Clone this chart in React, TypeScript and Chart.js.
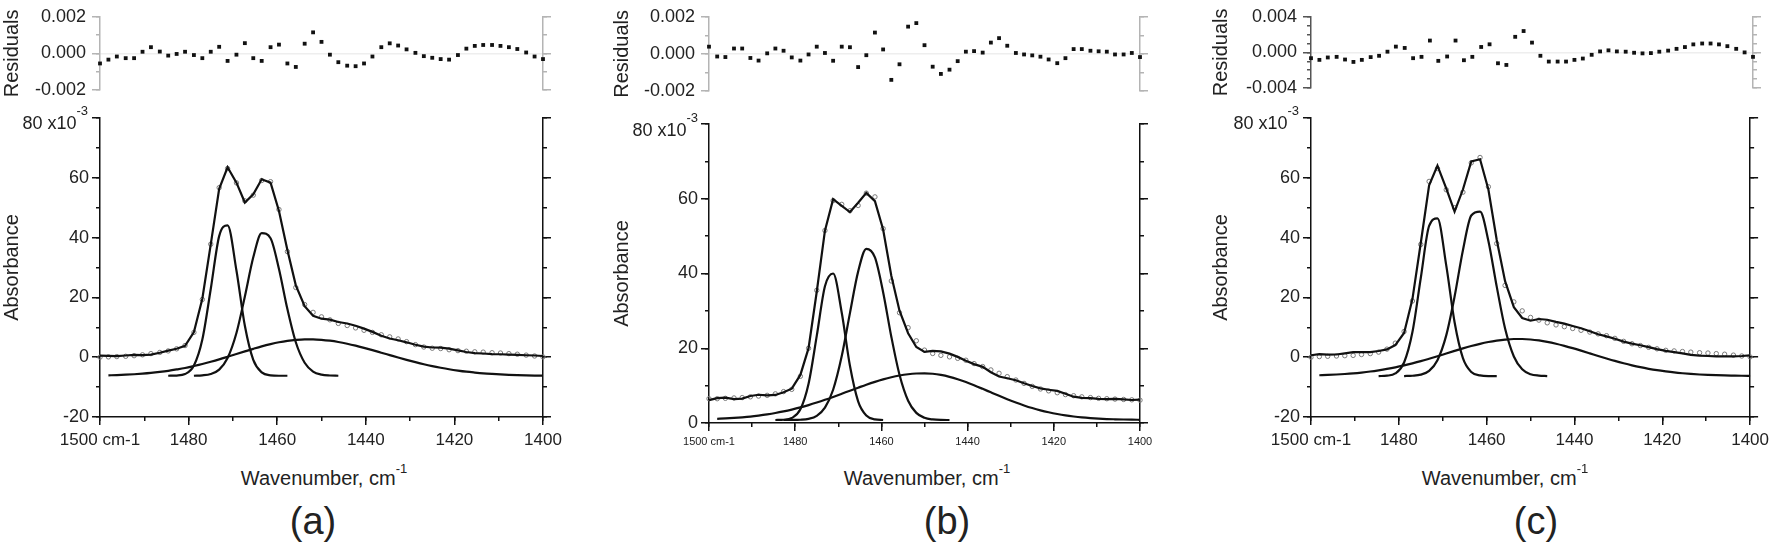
import React, { useEffect, useRef } from "react";
import { Chart, registerables } from "chart.js";

Chart.register(...registerables);

// ---------------- data ----------------
const WAVENUMBERS = [
  1500.0, 1498.1, 1496.2, 1494.2, 1492.3, 1490.4, 1488.5, 1486.5, 1484.6, 1482.7,
  1480.8, 1478.8, 1476.9, 1475.0, 1473.1, 1471.2, 1469.2, 1467.3, 1465.4, 1463.5,
  1461.5, 1459.6, 1457.7, 1455.8, 1453.8, 1451.9, 1450.0, 1448.1, 1446.2, 1444.2,
  1442.3, 1440.4, 1438.5, 1436.5, 1434.6, 1432.7, 1430.8, 1428.8, 1426.9, 1425.0,
  1423.1, 1421.2, 1419.2, 1417.3, 1415.4, 1413.5, 1411.5, 1409.6, 1407.7, 1405.8,
  1403.8, 1401.9, 1400.0,
];

const X_MIN = 1400;
const X_MAX = 1500;
const X_MAJOR = 20;
const X_MINOR = 10;
const Y_MAJOR = 20;
const Y_MINOR = 10;
const TOP_TICK = 80;
const RES_MINOR = 0.001;
const PANEL_LABELS = ["(a)", "(b)", "(c)"];

// panel (a)
const A_ABSORBANCE = [
  0.0, 0.1, 0.2, 0.3, 0.5, 0.8, 1.2, 1.6, 2.1, 2.8,
  3.9, 8.3, 19.3, 37.8, 56.7, 63.1, 58.3, 52.3, 54.2, 59.1,
  58.7, 49.4, 35.3, 23.3, 17.6, 15.0, 13.5, 12.5, 11.3, 10.6,
  9.8, 9.0, 8.3, 7.5, 6.8, 6.1, 5.2, 4.2, 3.4, 3.0,
  2.9, 2.5, 2.2, 2.0, 1.8, 1.7, 1.5, 1.4, 1.2, 1.0,
  0.7, 0.4, 0.1,
];
const A_RESIDUALS = [
  -0.00055, -0.00034, -0.00017, -0.00026, -0.00026, 0.00009, 0.00034, 0.0001, -0.00012, -0.00003,
  0.00009, -0.00009, -0.00026, 0.00009, 0.00036, -0.00041, -0.00007, 0.00056, -0.00026, -0.00041,
  0.00034, 0.00048, -0.00055, -0.00074, 0.00053, 0.00115, 0.00063, -0.00007, -0.00048, -0.00067,
  -0.0007, -0.00055, -0.00017, 0.00034, 0.00055, 0.00043, 0.00022, 0.00003, -0.00015, -0.00024,
  -0.00031, -0.00034, -0.00009, 0.00026, 0.00041, 0.00046, 0.00046, 0.00041, 0.00034, 0.00024,
  0.00005, -0.00017, -0.00031,
];
const A_PEAK1_START = 8;
const A_PEAK1 = [-6.2, -6.13, -5.64, -2.8, 5.9, 22.8, 40.5, 44.1, 29.0, 10.5, -0.9, -5.07, -6.06, -6.2, -6.2];
const A_PEAK2_START = 11;
const A_PEAK2 = [-6.2, -6.07, -5.62, -4.15, -0.27, 8.1, 20.3, 33.4, 41.5, 39.8, 29.5, 16.1, 5.0, -1.85, -4.8, -5.83, -6.12, -6.2];
const A_BROAD_START = 1;
const A_BROAD = [
  -6.07, -5.98, -5.86, -5.7, -5.5, -5.25, -4.92, -4.55, -4.1, -3.6,
  -2.94, -2.27, -1.52, -0.72, 0.14, 1.07, 1.94, 2.8, 3.62, 4.38,
  5.0, 5.48, 5.81, 5.99, 5.98, 5.82, 5.52, 5.09, 4.51, 3.86,
  3.13, 2.36, 1.51, 0.7, -0.11, -0.89, -1.66, -2.35, -2.97, -3.52,
  -4.02, -4.47, -4.84, -5.13, -5.39, -5.6, -5.77, -5.9, -6.0, -6.08,
  -6.14, -6.19,
];
const A_Y_RANGE = [-20, 80];
const A_RES_LIMIT = 0.002;

// panel (b)
const B_ABSORBANCE = [
  6.5, 6.5, 6.6, 6.7, 6.8, 7.0, 7.2, 7.4, 7.8, 8.4,
  9.0, 12.5, 20.0, 35.5, 51.5, 59.5, 58.5, 56.8, 58.2, 61.5,
  60.5, 52.0, 38.0, 29.5, 25.5, 22.0, 19.5, 18.6, 18.1, 17.7,
  17.3, 16.8, 15.9, 15.1, 14.2, 13.3, 12.4, 11.5, 10.6, 9.8,
  9.1, 8.6, 8.1, 7.6, 7.3, 7.0, 6.8, 6.6, 6.5, 6.4,
  6.3, 6.2, 6.1,
];
const B_RESIDUALS = [
  0.00039, -0.00014, -0.00017, 0.00029, 0.00029, -0.00022, -0.00036, 0.00003, 0.00029, 0.00017,
  -0.00019, -0.00036, -0.00003, 0.00039, 0.00005, -0.00037, 0.00039, 0.00036, -0.00071, -0.00007,
  0.00115, 0.00024, -0.0014, -0.00056, 0.00147, 0.00166, 0.00047, -0.00069, -0.00108, -0.00085,
  -0.00039, 0.00012, 0.00015, 0.00007, 0.00061, 0.00085, 0.00044, 0.00005, -0.00003, -0.00008,
  -0.00015, -0.0003, -0.0005, -0.00023, 0.00026, 0.00026, 0.00017, 0.00014, 0.00012, -0.00003,
  -0.00003, 0.00005, -0.00017,
];
const B_PEAK1_START = 8;
const B_PEAK1 = [0.8, 0.87, 1.33, 3.66, 10.5, 23.3, 36.6, 40.0, 29.5, 15.3, 5.8, 2.0, 0.97, 0.8];
const B_PEAK2_START = 9;
const B_PEAK2 = [0.8, 0.81, 0.87, 1.11, 1.92, 4.1, 8.9, 17.9, 29.4, 40.5, 46.6, 44.3, 35.0, 23.1, 12.9, 5.96, 2.71, 1.39, 0.95, 0.82, 0.8];
const B_BROAD_START = 1;
const B_BROAD = [
  1.11, 1.22, 1.36, 1.53, 1.73, 1.99, 2.31, 2.67, 3.1, 3.59,
  4.17, 4.79, 5.47, 6.2, 6.98, 7.83, 8.65, 9.45, 10.24, 11.01,
  11.67, 12.24, 12.7, 13.05, 13.25, 13.3, 13.17, 12.86, 12.35, 11.71,
  10.95, 10.1, 9.14, 8.2, 7.27, 6.37, 5.48, 4.7, 4.0, 3.39,
  2.87, 2.4, 2.03, 1.74, 1.5, 1.31, 1.17, 1.06, 0.99, 0.93,
  0.89, 0.86,
];
const B_Y_RANGE = [0, 80];
const B_RES_LIMIT = 0.002;

// panel (c)
const C_ABSORBANCE = [
  0.0, 0.2, 0.3, 0.4, 0.5, 0.6, 0.9, 1.2, 1.7, 2.7,
  4.7, 8.6, 18.8, 37.7, 58.8, 63.1, 56.0, 50.0, 55.2, 65.0,
  66.8, 57.0, 38.0, 24.0, 18.5, 15.5, 13.3, 12.4, 11.5, 10.8,
  10.2, 9.6, 9.0, 8.4, 7.8, 7.2, 6.3, 5.3, 4.5, 3.9,
  3.3, 2.8, 2.3, 2.1, 1.9, 1.7, 1.5, 1.4, 1.2, 1.0,
  0.7, 0.4, 0.1,
];
const C_RESIDUALS = [
  -0.00065, -0.00084, -0.00057, -0.0005, -0.0008, -0.00107, -0.00084, -0.00053, -0.00038, 0.00008,
  0.00065, 0.0005, -0.00065, -0.0005, 0.00133, -0.00095, -0.00046, 0.00133, -0.00088, -0.0005,
  0.00061, 0.00091, -0.00122, -0.00141, 0.00175, 0.0024, 0.0011, -0.00038, -0.00103, -0.00103,
  -0.00103, -0.00084, -0.00069, -0.00027, 0.00011, 0.00023, 0.00011, 0.00008, -0.00004, -0.00011,
  -0.00008, 0.00008, 0.0002, 0.0004, 0.0006, 0.0009, 0.001, 0.001, 0.0009, 0.0007,
  0.0004, 0.0, -0.0005,
];
const C_PEAK1_START = 8;
const C_PEAK1 = [-6.3, -6.18, -5.43, -1.76, 8.4, 26.5, 43.9, 46.4, 30.7, 11.7, -0.3, -4.93, -6.1, -6.3, -6.3];
const C_PEAK2_START = 11;
const C_PEAK2 = [-6.3, -6.2, -5.84, -4.56, -0.99, 7.3, 20.3, 35.8, 47.4, 48.7, 38.9, 23.6, 9.6, 0.24, -4.06, -5.68, -6.16, -6.3];
const C_BROAD_START = 1;
const C_BROAD = [
  -6.03, -5.92, -5.78, -5.61, -5.4, -5.13, -4.79, -4.39, -3.93, -3.4,
  -2.75, -2.07, -1.33, -0.52, 0.32, 1.24, 2.1, 2.94, 3.73, 4.48,
  5.08, 5.55, 5.89, 6.08, 6.08, 5.92, 5.6, 5.14, 4.51, 3.8,
  3.03, 2.2, 1.29, 0.41, -0.43, -1.24, -2.03, -2.72, -3.34, -3.88,
  -4.35, -4.76, -5.1, -5.37, -5.59, -5.78, -5.91, -6.01, -6.09, -6.15,
  -6.2, -6.23,
];
const C_Y_RANGE = [-20, 80];
const C_RES_LIMIT = 0.004;

// ---------------- style / layout ----------------
const FONT = "'Liberation Sans', Arial, Helvetica, sans-serif";
const TEXT = "#222";
const INK = "#111";
const AXIS = "#111";
const CIRCLE = "#7a7a7a";
const ZERO_LINE = "#eeeeee";

type Panel = {
  absorbance: number[];
  residuals: number[];
  peak1: number[];
  peak1Start: number;
  peak2: number[];
  peak2Start: number;
  broad: number[];
  broadStart: number;
  yRange: number[];
  resLimit: number;
};

const PANELS: Panel[] = [
  { absorbance: A_ABSORBANCE, residuals: A_RESIDUALS, peak1: A_PEAK1, peak1Start: A_PEAK1_START, peak2: A_PEAK2, peak2Start: A_PEAK2_START, broad: A_BROAD, broadStart: A_BROAD_START, yRange: A_Y_RANGE, resLimit: A_RES_LIMIT },
  { absorbance: B_ABSORBANCE, residuals: B_RESIDUALS, peak1: B_PEAK1, peak1Start: B_PEAK1_START, peak2: B_PEAK2, peak2Start: B_PEAK2_START, broad: B_BROAD, broadStart: B_BROAD_START, yRange: B_Y_RANGE, resLimit: B_RES_LIMIT },
  { absorbance: C_ABSORBANCE, residuals: C_RESIDUALS, peak1: C_PEAK1, peak1Start: C_PEAK1_START, peak2: C_PEAK2, peak2Start: C_PEAK2_START, broad: C_BROAD, broadStart: C_BROAD_START, yRange: C_Y_RANGE, resLimit: C_RES_LIMIT },
];

type Box = { left: number; top: number; width: number; height: number; axL: number; axR: number; padT: number; padB: number; axB: number; titlePad: number };

const MAIN_BOXES: Box[] = [
  { left: 0, top: 100, width: 575, height: 360, axL: 100, axR: 32, padT: 18, padB: 0, axB: 43, titlePad: 0 },
  { left: 600, top: 100, width: 570, height: 360, axL: 109, axR: 30, padT: 24, padB: 0, axB: 37, titlePad: 10 },
  { left: 1200, top: 100, width: 574, height: 360, axL: 111, axR: 21, padT: 18, padB: 0, axB: 43, titlePad: 9 },
];
const RES_BOXES: Box[] = [
  { left: 0, top: 0, width: 575, height: 110, axL: 100, axR: 32, padT: 12, padB: 20, axB: 0, titlePad: 0 },
  { left: 600, top: 0, width: 570, height: 110, axL: 109, axR: 30, padT: 14, padB: 19, axB: 0, titlePad: 10 },
  { left: 1200, top: 0, width: 574, height: 110, axL: 111, axR: 21, padT: 13, padB: 22, axB: 0, titlePad: 9 },
];
const X_TICK_FONT = [17, 11, 17];
const X_TICK_PAD = [5, 4, 5];
const RES_LEFT_COLOR = ["#b4b4b4", "#b4b4b4", "#555"];
const RES_RIGHT_COLOR = ["#b4b4b4", "#b4b4b4", "#b4b4b4"];

// overlay text positions
const X_TITLE_CENTER = [324, 927, 1505];
const PANEL_LABEL_CENTER = [313, 947, 1536];
const TOP_LABEL = [
  { right: 88, top: 114 },
  { right: 698, top: 121 },
  { right: 1299, top: 114 },
];

// ---------------- chart builders ----------------
function pts(vals: number[], start: number) {
  return vals.map((v, k) => ({ x: WAVENUMBERS[start + k], y: v }));
}

function axis(o: any) {
  const isX = o.axis === "x";
  return {
    type: "linear",
    axis: o.axis,
    position: o.position,
    min: o.min,
    max: o.max,
    reverse: !!o.reverse,
    weight: o.weight,
    afterFit: (s: any) => {
      if (isX) s.height = o.size;
      else s.width = o.size;
    },
    ticks: o.labels
      ? { stepSize: o.step, autoSkip: false, maxRotation: 0, minRotation: 0, ...o.labels }
      : { stepSize: o.step, autoSkip: false, display: false },
    grid: {
      display: true,
      drawOnChartArea: !!o.gridColor,
      drawTicks: true,
      tickLength: o.tickLength,
      tickWidth: 1.5,
      tickColor: o.color,
      lineWidth: 1.5,
      color: o.gridColor || "rgba(0,0,0,0)",
    },
    border: { display: !!o.border, color: o.color, width: 1.5 },
    title: o.title || { display: false },
  };
}

function buildMain(p: Panel, g: Box, idx: number) {
  const fit = p.absorbance.map((v, i) => ({ x: WAVENUMBERS[i], y: v - p.residuals[i] * 1000 }));
  const curve = (data: any[]) => ({
    data,
    xAxisID: "x",
    yAxisID: "y",
    borderColor: INK,
    borderWidth: 2.2,
    pointRadius: 0,
    fill: false,
    clip: false,
    cubicInterpolationMode: "monotone",
  });
  const [ymin, ymax] = p.yRange;
  return {
    type: "line",
    data: {
      datasets: [
        curve(pts(p.broad, p.broadStart)),
        curve(pts(p.peak1, p.peak1Start)),
        curve(pts(p.peak2, p.peak2Start)),
        { ...curve(fit), cubicInterpolationMode: "default", tension: 0 },
        {
          data: pts(p.absorbance, 0),
          xAxisID: "x",
          yAxisID: "y",
          showLine: false,
          pointRadius: 2.2,
          pointBorderWidth: 1,
          pointBorderColor: CIRCLE,
          pointBackgroundColor: "rgba(0,0,0,0)",
          borderColor: CIRCLE,
          backgroundColor: "rgba(0,0,0,0)",
          clip: false,
        },
      ],
    },
    options: {
      responsive: false,
      maintainAspectRatio: false,
      animation: false,
      events: [],
      layout: { padding: { top: g.padT, left: 0, right: 0, bottom: 0 } },
      plugins: { legend: { display: false }, tooltip: { enabled: false } },
      scales: {
        x: axis({
          axis: "x", position: "bottom", min: X_MIN, max: X_MAX, reverse: true, weight: 1, size: g.axB,
          step: X_MAJOR, tickLength: 8, color: AXIS, border: true,
          labels: {
            padding: X_TICK_PAD[idx],
            color: TEXT,
            font: { family: FONT, size: X_TICK_FONT[idx] },
            callback: (v: number) => (v === X_MAX ? `${X_MAX} cm-1` : String(v)),
          },
        }),
        xMinor: axis({
          axis: "x", position: "bottom", min: X_MIN, max: X_MAX, reverse: true, weight: 0, size: 0,
          step: X_MINOR, tickLength: 4, color: AXIS, border: false,
        }),
        y: axis({
          axis: "y", position: "left", min: ymin, max: ymax, weight: 1, size: g.axL,
          step: Y_MAJOR, tickLength: 8, color: AXIS, border: true,
          labels: {
            padding: 3,
            color: TEXT,
            font: { family: FONT, size: 18 },
            callback: (v: number) => (v === TOP_TICK ? "" : String(v)),
          },
          title: {
            display: true,
            text: "Absorbance",
            color: TEXT,
            font: { family: FONT, size: 20 },
            padding: { top: g.titlePad, bottom: 0 },
          },
        }),
        yMinor: axis({
          axis: "y", position: "left", min: ymin, max: ymax, weight: 0, size: 0,
          step: Y_MINOR, tickLength: 4, color: AXIS, border: false,
        }),
        yRight: axis({
          axis: "y", position: "right", min: ymin, max: ymax, weight: 1, size: g.axR,
          step: Y_MAJOR, tickLength: 8, color: AXIS, border: true,
        }),
        yRightMinor: axis({
          axis: "y", position: "right", min: ymin, max: ymax, weight: 0, size: 0,
          step: Y_MINOR, tickLength: 4, color: AXIS, border: false,
        }),
      },
    },
  };
}

function buildResidual(p: Panel, g: Box, idx: number) {
  const lim = p.resLimit;
  const lc = RES_LEFT_COLOR[idx];
  const rc = RES_RIGHT_COLOR[idx];
  return {
    type: "line",
    data: {
      datasets: [
        {
          data: pts(p.residuals, 0),
          xAxisID: "x",
          yAxisID: "y",
          showLine: false,
          pointStyle: "rect",
          pointRadius: 2.7,
          pointBorderWidth: 0,
          pointBackgroundColor: "#111",
          backgroundColor: "#111",
          borderColor: "#111",
          clip: false,
        },
      ],
    },
    options: {
      responsive: false,
      maintainAspectRatio: false,
      animation: false,
      events: [],
      layout: { padding: { top: g.padT, left: 0, right: 0, bottom: g.padB } },
      plugins: { legend: { display: false }, tooltip: { enabled: false } },
      scales: {
        x: { type: "linear", axis: "x", min: X_MIN, max: X_MAX, reverse: true, display: false },
        y: axis({
          axis: "y", position: "left", min: -lim, max: lim, weight: 1, size: g.axL,
          step: lim, tickLength: 8, color: lc, border: true,
          gridColor: (c: any) => (c.tick && Math.abs(c.tick.value) < 1e-12 ? ZERO_LINE : "rgba(0,0,0,0)"),
          labels: {
            padding: 6,
            color: TEXT,
            font: { family: FONT, size: 18 },
            callback: (v: number) => Number(v).toFixed(3).replace("-0.000", "0.000"),
          },
          title: {
            display: true,
            text: "Residuals",
            color: TEXT,
            font: { family: FONT, size: 20 },
            padding: { top: g.titlePad, bottom: 0 },
          },
        }),
        yMinor: axis({
          axis: "y", position: "left", min: -lim, max: lim, weight: 0, size: 0,
          step: RES_MINOR, tickLength: 4, color: lc, border: false,
        }),
        yRight: axis({
          axis: "y", position: "right", min: -lim, max: lim, weight: 1, size: g.axR,
          step: lim, tickLength: 8, color: rc, border: true,
        }),
        yRightMinor: axis({
          axis: "y", position: "right", min: -lim, max: lim, weight: 0, size: 0,
          step: RES_MINOR, tickLength: 4, color: rc, border: false,
        }),
      },
    },
  };
}

function PlotCanvas({ box, build }: { box: Box; build: () => any }) {
  const ref = useRef<HTMLCanvasElement | null>(null);
  useEffect(() => {
    if (!ref.current) return;
    const chart = new Chart(ref.current, build());
    return () => chart.destroy();
  }, []);
  return (
    <canvas
      ref={ref}
      width={box.width}
      height={box.height}
      style={{ position: "absolute", left: box.left, top: box.top, width: box.width, height: box.height }}
    />
  );
}

export default function App() {
  return (
    <div
      style={{
        position: "absolute",
        left: 0,
        top: 0,
        width: 1774,
        height: 545,
        background: "#fff",
        fontFamily: FONT,
        color: TEXT,
        overflow: "hidden",
      }}
    >
      {PANELS.map((p, i) => (
        <PlotCanvas key={`r${i}`} box={RES_BOXES[i]} build={() => buildResidual(p, RES_BOXES[i], i)} />
      ))}
      {PANELS.map((p, i) => (
        <PlotCanvas key={`m${i}`} box={MAIN_BOXES[i]} build={() => buildMain(p, MAIN_BOXES[i], i)} />
      ))}
      {TOP_LABEL.map((t, i) => (
        <div
          key={`t${i}`}
          style={{
            position: "absolute",
            left: t.right - 140,
            width: 140,
            top: t.top,
            textAlign: "right",
            fontSize: 18,
            lineHeight: "18px",
            whiteSpace: "nowrap",
          }}
        >
          {`${TOP_TICK} x10`}
          <span style={{ fontSize: 13, position: "relative", top: -14 }}>-3</span>
        </div>
      ))}
      {X_TITLE_CENTER.map((cx, i) => (
        <div
          key={`x${i}`}
          style={{
            position: "absolute",
            left: cx - 150,
            width: 300,
            top: 468,
            textAlign: "center",
            fontSize: 20,
            lineHeight: "20px",
            whiteSpace: "nowrap",
          }}
        >
          Wavenumber, cm
          <span style={{ fontSize: 13, position: "relative", top: -12 }}>-1</span>
        </div>
      ))}
      {PANEL_LABEL_CENTER.map((cx, i) => (
        <div
          key={`p${i}`}
          style={{
            position: "absolute",
            left: cx - 60,
            width: 120,
            top: 502,
            textAlign: "center",
            fontSize: 38,
            lineHeight: "38px",
          }}
        >
          {PANEL_LABELS[i]}
        </div>
      ))}
    </div>
  );
}
